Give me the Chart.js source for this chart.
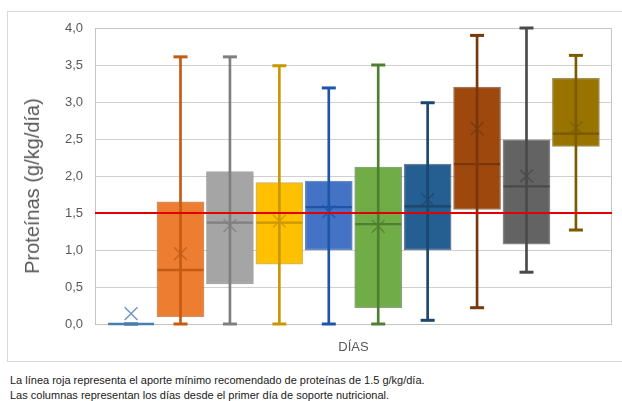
<!DOCTYPE html>
<html lang="es">
<head>
<meta charset="utf-8">
<title>Proteínas por día de soporte nutricional</title>
<script src="https://cdn.jsdelivr.net/npm/chart.js@4/dist/chart.umd.min.js"></script>
<style>
  html, body { margin: 0; padding: 0; background: #fff; }
  body { width: 622px; height: 401px; position: relative; overflow: hidden;
         font-family: "Liberation Sans", Arial, sans-serif; }
  #frame { position: absolute; left: 7px; top: 11px; width: 640px; height: 351px;
           border: 1px solid #d9d9d9; box-sizing: border-box; }
  #wrap { position: absolute; left: 0; top: 0; width: 622px; height: 370px; }
  #ytitle { position: absolute; left: 32px; top: 186px; transform: translate(-50%, -50%) rotate(-90deg);
            white-space: nowrap; font-size: 20px; color: #595959; line-height: 24px; }
  #nota { position: absolute; left: 10px; top: 373px; font-size: 11px; line-height: 15px; color: #1a1a1a; }
</style>
</head>
<body>
<div id="frame"></div>
<div id="wrap"><canvas id="c"></canvas></div>
<div id="ytitle">Proteínas (g/kg/día)</div>
<div id="nota">La línea roja representa el aporte mínimo recomendado de proteínas de 1.5 g/kg/día.<br>Las columnas representan los días desde el primer día de soporte nutricional.</div>
<script>
// Días de soporte nutricional (una caja por día)
const dias    = [1, 2, 3, 4, 5, 6, 7, 8, 9, 10];
// Resumen de cada caja (g/kg/día)
const minimo  = [0, 0,    0,    0,    0,    0,    0.05, 0.22, 0.70, 1.27];
const q1      = [0, 0.10, 0.54, 0.81, 1.00, 0.22, 1.00, 1.55, 1.08, 2.40];
const mediana = [0, 0.73, 1.37, 1.37, 1.58, 1.35, 1.59, 2.16, 1.86, 2.57];
const q3      = [0, 1.65, 2.06, 1.91, 1.93, 2.12, 2.16, 3.20, 2.49, 3.32];
const maximo  = [0, 3.61, 3.61, 3.49, 3.19, 3.50, 2.99, 3.90, 4.00, 3.63];
const media   = [0.14, 0.95, 1.33, 1.39, 1.52, 1.32, 1.68, 2.64, 2.00, 2.65];
// Aporte mínimo recomendado
const minimoRecomendado = 1.5;
// Eje Y
const yTicks = [0, 0.5, 1, 1.5, 2, 2.5, 3, 3.5, 4];

const relleno = ['#5B9BD5', '#ED7D31', '#A5A5A5', '#FFC000', '#4472C4', '#70AD47',
                 '#255E91', '#9E480E', '#636363', '#997300'];
const oscuro  = ['#4A7EB0', '#C55A11', '#7F7F7F', '#C99700', '#1F55A8', '#507E32',
                 '#1C466D', '#7A370A', '#4A4A4A', '#7A5B00'];

const xMin = 0.27, xMax = 10.73;

const pts = arr => dias.map((d, i) => ({ x: d, y: arr[i] }));

// Marco del área de trazado
const marco = {
  id: 'marco',
  beforeDatasetsDraw(chart) {
    const { ctx, chartArea: a } = chart;
    ctx.save();
    ctx.strokeStyle = '#c4c4c4';
    ctx.lineWidth = 1;
    ctx.strokeRect(Math.round(a.left) + 0.5, Math.round(a.top) + 0.5,
                   Math.round(a.right - a.left) - 1, Math.round(a.bottom - a.top));
    ctx.restore();
  }
};

new Chart(document.getElementById('c'), {
  type: 'bar',
  plugins: [marco],
  data: {
    datasets: [
      {
        type: 'line', label: 'mínimo recomendado', order: 0,
        data: [{ x: xMin, y: minimoRecomendado }, { x: xMax, y: minimoRecomendado }],
        borderColor: '#E00000', borderWidth: 2, pointRadius: 0, fill: false
      },
      {
        type: 'line', label: 'media', order: 1, showLine: false, clip: false,
        data: pts(media), pointStyle: 'crossRot', pointRadius: 9,
        pointBorderWidth: 1.5, pointBorderColor: oscuro.map(c => c + 'CC'), pointBackgroundColor: 'transparent'
      },
      {
        type: 'line', label: 'mediana', order: 2, showLine: false, clip: false,
        data: pts(mediana), pointStyle: 'line', pointRadius: 23,
        pointBorderWidth: 2.4, pointBorderColor: oscuro
      },
      {
        type: 'line', label: 'máx', order: 2, showLine: false, clip: false,
        data: pts(maximo), pointStyle: 'line', pointRadius: 7,
        pointBorderWidth: 3, pointBorderColor: oscuro
      },
      {
        type: 'line', label: 'mín', order: 2, showLine: false, clip: false,
        data: pts(minimo), pointStyle: 'line', pointRadius: 7,
        pointBorderWidth: 3, pointBorderColor: oscuro
      },
      {
        label: 'bigote', order: 3,
        data: dias.map((d, i) => ({ x: d, y: [minimo[i], maximo[i]] })),
        backgroundColor: oscuro, borderWidth: 0, barThickness: 2, grouped: false
      },
      {
        label: 'caja', order: 4,
        data: dias.map((d, i) => ({ x: d, y: [q1[i], q3[i]] })),
        backgroundColor: relleno, borderColor: oscuro.map(c => c + 'B0'), borderWidth: 1.5,
        borderSkipped: false, barThickness: 47, grouped: false
      }
    ]
  },
  options: {
    responsive: true,
    maintainAspectRatio: false,
    animation: false,
    events: [],
    layout: { autoPadding: false, padding: { left: 0, right: 10, top: 28, bottom: 0 } },
    plugins: { legend: { display: false }, tooltip: { enabled: false } },
    scales: {
      x: {
        type: 'linear', min: xMin, max: xMax, offset: false,
        grid: { display: false },
        border: { display: false },
        ticks: { display: false },
        title: {
          display: true, text: 'DÍAS', color: '#595959',
          font: { family: '"Liberation Sans", Arial, sans-serif', size: 13 },
          padding: { top: 0, bottom: 15 }
        },
        afterFit(s) { s.height = 46; }
      },
      y: {
        min: 0, max: 4,
        afterBuildTicks(s) { s.ticks = yTicks.map(v => ({ value: v })); },
        grid: { color: '#d0d0d0', drawTicks: false },
        border: { display: false },
        ticks: {
          padding: 12, color: '#595959',
          font: { family: '"Liberation Sans", Arial, sans-serif', size: 13 },
          callback: v => v.toFixed(1).replace('.', ',')
        },
        afterFit(s) { s.width = 95; }
      }
    }
  }
});
</script>
</body>
</html>
